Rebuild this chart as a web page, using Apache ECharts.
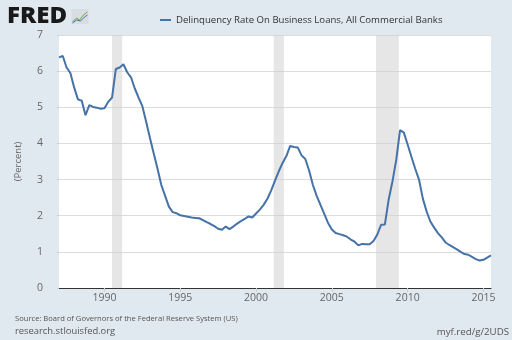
<!DOCTYPE html>
<html>
<head>
<meta charset="utf-8">
<script src="https://cdn.jsdelivr.net/npm/echarts@6/dist/echarts.min.js"></script>
<style>
  html, body { margin: 0; padding: 0; background: #e1e9f0; }
  #chart { width: 512px; height: 340px; }
</style>
</head>
<body>
<div id="chart"></div>
<script>
// Delinquency rate on business loans, all commercial banks (quarterly, percent)
const startYear = 1987;
const rates = [
  6.38, 6.42, 6.10, 5.95, 5.55, 5.22, 5.18, 4.78, 5.06, 5.01, 4.99, 4.96, 4.97, 5.15, 5.27, 6.06, 6.10, 6.19, 5.97, 5.83,
  5.52, 5.27, 5.03, 4.60, 4.15, 3.72, 3.30, 2.85, 2.55, 2.25, 2.10, 2.07, 2.01, 1.99, 1.97, 1.95, 1.94, 1.93, 1.88, 1.82,
  1.77, 1.71, 1.64, 1.61, 1.70, 1.63, 1.70, 1.78, 1.85, 1.91, 1.98, 1.95, 2.06, 2.17, 2.30, 2.47, 2.70, 2.97, 3.23, 3.46,
  3.65, 3.93, 3.90, 3.89, 3.67, 3.57, 3.25, 2.85, 2.55, 2.30, 2.05, 1.80, 1.62, 1.52, 1.49, 1.46, 1.42, 1.34, 1.28, 1.18,
  1.22, 1.21, 1.21, 1.30, 1.48, 1.75, 1.76, 2.45, 2.95, 3.55, 4.37, 4.30, 3.97, 3.63, 3.30, 3.00, 2.48, 2.12, 1.84, 1.67,
  1.52, 1.40, 1.26, 1.19, 1.13, 1.07, 1.00, 0.94, 0.92, 0.86, 0.80, 0.76, 0.78, 0.84, 0.90
];
// Quarter start of each observation, as a fractional year
const quarters = rates.map((_, i) => startYear + Math.floor(i / 4) + (i % 4) / 4);
// NBER recessions as [year, month] of peak and trough
const recessions = [
  [[1990, 7], [1991, 3]],
  [[2001, 3], [2001, 11]],
  [[2007, 12], [2009, 6]]
];
const xTickYears = [1990, 1995, 2000, 2005, 2010, 2015];
const xRange = [1987, 2015.5];
const yTicks = [0, 1, 2, 3, 4, 5, 6, 7];

const seriesName = 'Delinquency Rate On Business Loans, All Commercial Banks';
const ym = p => p[0] + (p[1] - 1) / 12;

const chart = echarts.init(document.getElementById('chart'), null, { renderer: 'canvas' });
chart.setOption({
  backgroundColor: '#e1e9f0',
  animation: false,
  textStyle: { fontFamily: 'Open Sans' },
  grid: {
    left: 59, right: 21, top: 35, bottom: 52,
    show: true, backgroundColor: '#ffffff', borderWidth: 0
  },
  legend: {
    data: [seriesName],
    left: 155, top: 10,
    icon: 'rect', itemWidth: 11, itemHeight: 2, itemGap: 6,
    textStyle: { color: '#333333', fontSize: 9.6, fontFamily: 'Open Sans' }
  },
  xAxis: {
    type: 'value',
    min: xRange[0],
    max: xRange[1],
    axisLine: { show: true, onZero: false, lineStyle: { color: '#333333', width: 1 } },
    axisTick: { show: true, customValues: xTickYears, length: 4, lineStyle: { color: '#c8d0d8' } },
    axisLabel: {
      customValues: xTickYears,
      formatter: v => String(v),
      color: '#666666', fontSize: 10.5, margin: 5
    },
    splitLine: { show: false }
  },
  yAxis: {
    type: 'value',
    min: yTicks[0], max: yTicks[yTicks.length - 1], interval: 1,
    name: '(Percent)',
    nameLocation: 'middle',
    nameGap: 36,
    nameTextStyle: { color: '#666666', fontSize: 9.5 },
    axisLine: { show: false },
    axisTick: { show: true, length: 2, lineStyle: { color: '#c8d0d8' } },
    axisLabel: { color: '#666666', fontSize: 10.5, margin: 16 },
    splitLine: { show: true, lineStyle: { color: '#dcdcdc', width: 1 } }
  },
  series: [
    {
      name: 'recessions',
      type: 'line',
      data: [],
      silent: true,
      z: 1,
      markArea: {
        silent: true,
        itemStyle: { color: 'rgba(205,205,205,0.5)' },
        data: recessions.map(r => [{ xAxis: ym(r[0]) }, { xAxis: ym(r[1]) }])
      }
    },
    {
      name: seriesName,
      type: 'line',
      z: 3,
      showSymbol: false,
      symbol: 'none',
      lineStyle: { color: '#4572a7', width: 2 },
      itemStyle: { color: '#4572a7' },
      data: quarters.map((d, i) => [d, rates[i]])
    }
  ],
  graphic: [
    {
      type: 'text', x: 7, y: 5, scaleX: 1.07,
      style: { text: 'FRED', fontFamily: 'Open Sans', fontWeight: 800, fontSize: 22.5, fill: '#1a1a1a' }
    },
    {
      type: 'group', left: 70, top: 9,
      children: [
        { type: 'rect', shape: { x: 0, y: 0, width: 17, height: 15 }, style: { fill: '#d9dde2' } },
        { type: 'polyline', shape: { points: [[1, 13], [5, 9], [8, 11], [12, 6], [16, 3]] }, style: { stroke: '#6aa84f', lineWidth: 1, fill: null } },
        { type: 'polyline', shape: { points: [[1, 14], [5, 11], [9, 12], [13, 8], [16, 6]] }, style: { stroke: '#4572a7', lineWidth: 1, fill: null } }
      ]
    },
    {
      type: 'text', left: 15, top: 315,
      style: { text: 'Source: Board of Governors of the Federal Reserve System (US)', fontFamily: 'Open Sans', fontSize: 7.6, fill: '#555555' }
    },
    {
      type: 'text', left: 15, top: 327,
      style: { text: 'research.stlouisfed.org', fontFamily: 'Open Sans', fontSize: 9.4, fill: '#555555' }
    },
    {
      type: 'text', right: 3, top: 327,
      style: { text: 'myf.red/g/2UDS', fontFamily: 'Open Sans', fontSize: 9.7, fill: '#555555' }
    }
  ]
});
</script>
</body>
</html>
